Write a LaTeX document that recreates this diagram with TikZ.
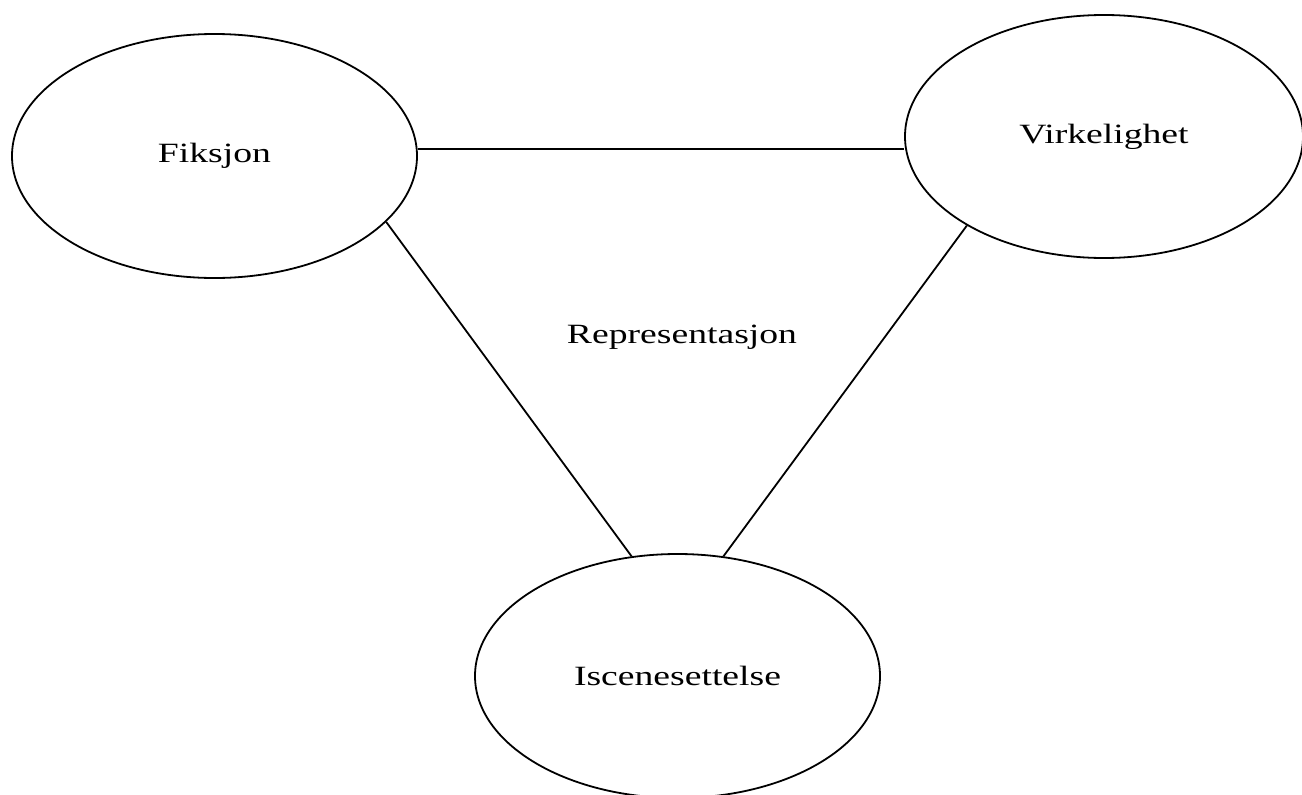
\documentclass[tikz,border=0pt]{standalone}
\usepackage{fontspec}
\setmainfont{Liberation Serif}
\usetikzlibrary{shapes.geometric}
\tikzset{
  bubble/.style={ellipse, draw=black, line width=1.8bp, inner sep=0pt,
    font=\fontsize{28}{34}\selectfont},
  link/.style={draw=black, line width=1.8bp},
  word/.style={font=\fontsize{28}{34}\selectfont, inner sep=0pt}
}
\newcommand{\wide}[1]{\scalebox{1.35}[1]{#1}}
\begin{document}
\begin{tikzpicture}[x=1bp,y=-1bp]
  \useasboundingbox (0,0) rectangle (1302,794);
  \node[bubble, minimum width=405bp, minimum height=244bp] (fik) at (214.5,156) {\wide{Fiksjon}};
  \node[bubble, minimum width=398bp, minimum height=243bp] (vir) at (1104,136.5) {\wide{Virkelighet}};
  \node[bubble, minimum width=405bp, minimum height=244bp] (isc) at (677.5,676) {\wide{Iscenesettelse}};
  \node[word, anchor=base] (rep) at (682,343) {\wide{Representasjon}};
  % top edge kept level
  \draw[link] (fik.2.4) -- (fik.2.4 -| vir.west);
  \draw[link] (fik.-21.5) -- (isc.111.4);
  \draw[link] (vir.-147.1) -- (isc.69.4);
\end{tikzpicture}
\end{document}
